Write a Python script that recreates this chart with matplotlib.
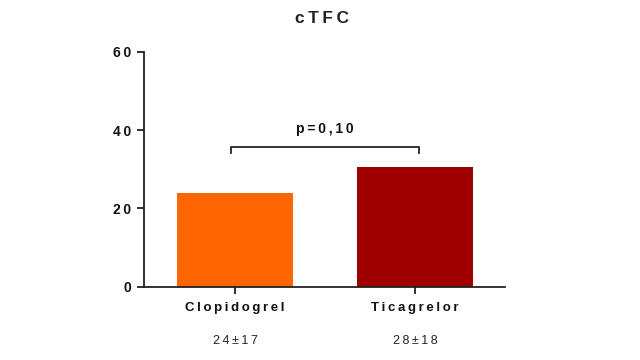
import matplotlib
matplotlib.use("Agg")
import matplotlib.pyplot as plt

categories = ["Clopidogrel", "Ticagrelor"]
values = [23.9, 30.7]
summaries = ["24±17", "28±18"]
colors = ["#FF6600", "#A00000"]
title = "cTFC"
p_label = "p=0,10"
y_ticks = [0, 20, 40, 60]
bracket_y = 35.6
bracket_drop = 1.3

SP = "\u2009"
def spaced(s):
    return SP.join(list(s))

plt.rcParams['font.family'] = ['Liberation Sans', 'DejaVu Sans']

fig = plt.figure(figsize=(6.4, 3.6), dpi=100)
ax = fig.add_axes([0.225, 0.2036, 0.564, 0.652])
x = list(range(len(categories)))
ax.bar(x, values, width=0.644, color=colors, zorder=2)
ax.set_xlim(-0.506, 1.5)
ax.set_ylim(0, 60)
ax.set_yticks(y_ticks)
ax.set_yticklabels([spaced(str(t)) for t in y_ticks], fontsize=10, fontweight='bold', color='#111111')
ax.set_xticks(x)
ax.set_xticklabels([spaced(c) for c in categories], fontsize=9.5, fontweight='bold', color='#111111')
for s in ['top', 'right']:
    ax.spines[s].set_visible(False)
for s in ['left', 'bottom']:
    ax.spines[s].set_linewidth(1.3)
    ax.spines[s].set_color('#222222')
ax.tick_params(axis='both', direction='out', length=5, width=1.3, color='#222222')
ax.tick_params(axis='x', pad=6)
ax.tick_params(axis='y', pad=4)

for xi, s in zip(x, summaries):
    ax.annotate(spaced(s), xy=(xi, 0), xycoords='data', xytext=(0, -39),
                textcoords='offset points', ha='center', va='center',
                fontsize=9, color='#222222')

# bracket
x0, x1 = -0.02, 1.02
ax.plot([x0, x0, x1, x1], [bracket_y - bracket_drop, bracket_y, bracket_y, bracket_y - bracket_drop],
        color='#222222', lw=1.3, clip_on=False)
ax.text(0.5, bracket_y + 3.0, spaced(p_label), ha='center', va='bottom', fontsize=10,
        fontweight='bold', color='#111111')

fig.text(0.503, 0.948, spaced(title), ha='center', va='center', fontsize=12.5,
         fontweight='bold', color='#222222')

fig.savefig("out.png", dpi=100)
